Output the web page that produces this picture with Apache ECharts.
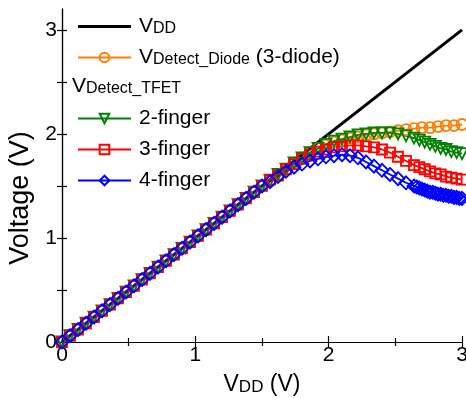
<!DOCTYPE html>
<html>
<head>
<meta charset="utf-8">
<script src="https://cdn.jsdelivr.net/npm/echarts@6/dist/echarts.min.js"></script>
<style>
  html, body { margin: 0; padding: 0; background: #fff; }
  #chart { width: 466px; height: 398px; }
</style>
</head>
<body>
<div id="chart"></div>
<script>
// sweep voltage (V)
const xSweep = [0.00, 0.06, 0.12, 0.18, 0.24, 0.30, 0.36, 0.42, 0.48, 0.54, 0.60, 0.66, 0.72, 0.78, 0.84, 0.90, 0.96, 1.02, 1.08, 1.14, 1.20, 1.26, 1.32, 1.38, 1.44, 1.50, 1.56, 1.62, 1.68, 1.74, 1.80, 1.86, 1.92, 1.98, 2.04, 2.10, 2.16, 2.22, 2.28, 2.34, 2.40, 2.46, 2.52, 2.58, 2.64, 2.70, 2.76, 2.82, 2.88, 2.94, 3.00];
const xTailCoarse = [2.68, 2.72, 2.76, 2.80, 2.84, 2.88, 2.92, 2.96, 3.00];
const xTailFine = [2.66, 2.68, 2.70, 2.72, 2.74, 2.76, 2.78, 2.80, 2.82, 2.84, 2.86, 2.88, 2.90, 2.92, 2.94, 2.96, 2.98, 3.00];

const xVdd = [0, 3];
const yVdd = [0, 3];

const yDiode = [0.00, 0.06, 0.12, 0.18, 0.24, 0.30, 0.36, 0.42, 0.48, 0.54, 0.60, 0.66, 0.72, 0.78, 0.84, 0.90, 0.96, 1.02, 1.08, 1.14, 1.20, 1.26, 1.32, 1.38, 1.44, 1.50,
  1.55, 1.61, 1.66, 1.72, 1.77, 1.82, 1.86, 1.89, 1.92, 1.94, 1.96, 1.97, 1.99, 2.00, 2.01, 2.02, 2.03, 2.04, 2.05, 2.06, 2.06, 2.07, 2.08, 2.08, 2.09];

const y2finger = [0.00, 0.06, 0.12, 0.18, 0.24, 0.30, 0.36, 0.42, 0.48, 0.54, 0.60, 0.66, 0.72, 0.78, 0.84, 0.90, 0.96, 1.02, 1.08, 1.14, 1.20, 1.26, 1.32, 1.38, 1.44, 1.50,
  1.55, 1.61, 1.66, 1.72, 1.77, 1.82, 1.86, 1.90, 1.93, 1.95, 1.97, 1.99, 2.00, 2.01, 2.01, 2.01, 2.00, 1.98, 1.96,
  1.94, 1.92, 1.90, 1.88, 1.86, 1.85, 1.83, 1.82, 1.81];

const y3finger = [0.00, 0.06, 0.12, 0.18, 0.24, 0.30, 0.36, 0.42, 0.48, 0.54, 0.60, 0.66, 0.72, 0.78, 0.84, 0.90, 0.96, 1.02, 1.08, 1.14, 1.20, 1.26, 1.32, 1.38, 1.44, 1.50, 1.56,
  1.60, 1.66, 1.71, 1.76, 1.80, 1.83, 1.85, 1.87, 1.88, 1.89, 1.89, 1.88, 1.87, 1.85, 1.82, 1.78, 1.74, 1.70,
  1.68, 1.66, 1.64, 1.62, 1.61, 1.59, 1.58, 1.57, 1.56];

const y4finger = [0.00, 0.06, 0.12, 0.18, 0.24, 0.30, 0.36, 0.42, 0.48, 0.54, 0.60, 0.66, 0.72, 0.78, 0.84, 0.90, 0.96, 1.02, 1.08, 1.14, 1.20, 1.26, 1.32, 1.38, 1.44, 1.50,
  1.54, 1.59, 1.64, 1.68, 1.71, 1.74, 1.76, 1.78, 1.79, 1.80, 1.79, 1.77, 1.73, 1.69, 1.65, 1.61, 1.57, 1.53, 1.50,
  1.49, 1.48, 1.47, 1.46, 1.45, 1.44, 1.44, 1.43, 1.42, 1.42, 1.41, 1.41, 1.40, 1.40, 1.39, 1.39, 1.38, 1.38];

const xTicks = [0, 1, 2, 3];
const yTicks = [0, 1, 2, 3];
const yTickMarks = [0, 0.5, 1, 1.5, 2, 2.5, 3];

const FONT = 'Liberation Sans, Arial, sans-serif';

const xTfet = xSweep.slice(0, 45).concat(xTailCoarse);
const xBlue = xSweep.slice(0, 45).concat(xTailFine);
const pairs = (xs, ys) => xs.map((x, i) => [x, ys[i]]);

const legendNames = {
  'VDD': '{v|V}{s|DD}',
  'VDetect_Diode (3-diode)': '{v|V}{s|Detect_Diode}{v| (3-diode)}',
  '2-finger': '{v|2-finger}',
  '3-finger': '{v|3-finger}',
  '4-finger': '{v|4-finger}'
};
const richText = {
  v: { fontFamily: FONT, fontSize: 21, color: '#000', verticalAlign: 'bottom' },
  s: { fontFamily: FONT, fontSize: 16, color: '#000', verticalAlign: 'bottom' }
};
const legendBase = {
  orient: 'vertical',
  left: 72,
  itemWidth: 53,
  itemHeight: 12,
  itemGap: 10,
  formatter: name => legendNames[name],
  textStyle: { fontFamily: FONT, fontSize: 21, color: '#000', padding: [0, 0, 0, 3], rich: richText }
};
// thick black bar for the VDD legend entry (outer moves keep the box height)
const vddIcon = 'path://M0,0M0,12M0,4.5L53,4.5L53,7.5L0,7.5Z';

const hollow = (color, symbol, size, rotate) => ({
  type: 'line',
  symbol: symbol,
  symbolSize: size,
  symbolRotate: rotate || 0,
  showAllSymbol: true,
  lineStyle: { color: color, width: 1.8 },
  itemStyle: { color: 'rgba(255,255,255,0)', borderColor: color, borderWidth: 1.8 },
  emphasis: { disabled: true }
});

const chart = echarts.init(document.getElementById('chart'));

const frameAxis = {
  axisLine: { lineStyle: { color: '#000', width: 1.2 } },
  splitLine: { show: false }
};

chart.setOption({
  animation: false,
  backgroundColor: '#fff',
  grid: { left: 62, right: 4, top: 9, bottom: 56, outerBoundsMode: 'none' },
  legend: [
    Object.assign({}, legendBase, { top: 11, data: [{ name: 'VDD', icon: vddIcon }, 'VDetect_Diode (3-diode)'] }),
    Object.assign({}, legendBase, { top: 103, data: ['2-finger', '3-finger', '4-finger'] })
  ],
  graphic: [
    {
      type: 'text', left: 72, top: 76,
      style: { text: '{v|V}{s|Detect_TFET}', rich: richText }
    },
    {
      type: 'text', x: 21, y: 198, rotation: Math.PI / 2,
      style: { text: 'Voltage (V)', font: '27px ' + FONT, fill: '#000', align: 'center', verticalAlign: 'middle' }
    }
  ],
  xAxis: [
    Object.assign({}, frameAxis, {
      type: 'value', min: 0, max: 3, interval: 1,
      axisTick: { inside: true, length: 6, lineStyle: { color: '#000', width: 1.2 } },
      minorTick: { show: true, splitNumber: 2, length: 4, lineStyle: { color: '#000', width: 1.2 } },
      axisLabel: { color: '#000', fontFamily: FONT, fontSize: 21, margin: 3, customValues: xTicks },
      name: '{v|V}{s|DD}{v| (V)}',
      nameLocation: 'middle',
      nameGap: 31,
      nameTextStyle: { rich: {
        v: { fontFamily: FONT, fontSize: 23, color: '#000', verticalAlign: 'bottom' },
        s: { fontFamily: FONT, fontSize: 17, color: '#000', verticalAlign: 'bottom' }
      } }
    }),
    Object.assign({}, frameAxis, {
      type: 'value', position: 'top', min: 0, max: 3, interval: 1,
      axisTick: { inside: true, length: 6, lineStyle: { color: '#000', width: 1.2 } },
      minorTick: { show: true, splitNumber: 2, length: 4, lineStyle: { color: '#000', width: 1.2 } },
      axisLabel: { show: false }
    })
  ],
  yAxis: [
    Object.assign({}, frameAxis, {
      type: 'value', min: 0, max: 3.2, interval: 0.5,
      axisTick: { inside: true, length: 5, customValues: yTickMarks, lineStyle: { color: '#000', width: 1.2 } },
      axisLabel: { color: '#000', fontFamily: FONT, fontSize: 21, margin: 5, customValues: yTicks }
    }),
    Object.assign({}, frameAxis, {
      type: 'value', position: 'right', min: 0, max: 3.2, interval: 0.5,
      axisTick: { inside: true, length: 5, customValues: yTickMarks, lineStyle: { color: '#000', width: 1.2 } },
      axisLabel: { show: false }
    })
  ],
  series: [
    {
      name: 'VDD', type: 'line', symbol: 'none',
      lineStyle: { color: '#000', width: 3 },
      itemStyle: { color: '#000' },
      data: pairs(xVdd, yVdd)
    },
    Object.assign(hollow('#ff8000', 'circle', 11), { name: 'VDetect_Diode (3-diode)', data: pairs(xSweep, yDiode) }),
    Object.assign(hollow('#008000', 'triangle', 11, 180), { name: '2-finger', data: pairs(xTfet, y2finger) }),
    Object.assign(hollow('#ff0000', 'rect', 10), { name: '3-finger', data: pairs(xTfet, y3finger) }),
    Object.assign(hollow('#0000ff', 'diamond', 13), { name: '4-finger', data: pairs(xBlue, y4finger) })
  ]
});
</script>
</body>
</html>
